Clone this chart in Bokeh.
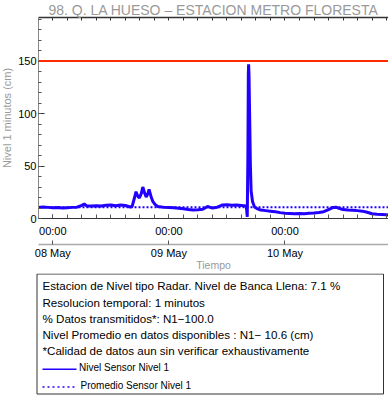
from bokeh.plotting import figure
from bokeh.models import Range1d, LinearAxis, FixedTicker, Span
from bokeh.layouts import column
from bokeh.embed import file_html
from bokeh.resources import INLINE
from bokeh.core.properties import value

# ---------------- data ----------------
TITLE = "98. Q. LA HUESO – ESTACION METRO FLORESTA"

# hours since 08 May 00:00
hours = [-3, -2, -1, 0, 1, 2, 3, 4, 5, 6, 6.5, 7, 8, 9, 10, 11, 12, 13, 14, 15,
         16, 16.4, 16.9, 17.2, 17.6, 17.9, 18.3, 18.6, 19.0, 19.3, 19.6, 19.9,
         20.3, 20.7, 21.2, 21.7, 22.5, 23, 24, 25, 26, 27, 28, 29, 30, 31, 32,
         32.5, 33, 34, 35, 36, 37, 38, 39, 40, 40.2, 40.33, 40.42, 40.48, 40.56,
         40.7, 40.85, 41.0, 41.3, 41.7, 42.2, 43, 44, 45, 46, 47, 48, 49, 50, 51,
         52, 53, 54, 55, 56, 57, 58, 58.5, 59, 60, 61, 62, 63, 64, 65, 66, 67,
         68, 69, 69.4]
level = [10.5, 11.0, 10.6, 10.2, 10.4, 10.0, 10.3, 10.6, 10.8, 12.5, 13.8, 12.0,
         11.8, 12.2, 12.0, 12.6, 12.8, 12.2, 12.8, 12.4, 11.0, 11.5, 20.0, 25.5,
         21.0, 19.5, 24.0, 30.0, 24.0, 20.5, 23.0, 27.8, 21.0, 16.0, 13.0, 11.5,
         11.0, 10.8, 10.5, 10.2, 9.8, 9.2, 8.6, 8.2, 8.4, 8.8, 11.5, 10.6, 10.0,
         10.8, 12.8, 13.2, 12.6, 12.8, 12.4, 12.0, 1.5, 60.0, 137.0, 147.0, 137.0,
         95.0, 50.0, 26.0, 16.0, 11.0, 9.5, 8.0, 7.5, 7.0, 6.5, 5.6, 5.0, 4.8,
         4.6, 4.8, 4.5, 5.0, 5.3, 5.8, 6.5, 8.5, 10.5, 10.8, 10.0, 8.5, 8.0, 7.8,
         7.5, 7.0, 6.0, 4.5, 4.0, 3.8, 3.5, 3.2]

mean_level = 10.6
bankfull_level = 150

day_ticks = [0, 24, 48]
time_labels = ["00:00", "00:00", "00:00"]
date_labels = ["08 May", "09 May", "10 May"]
minor_x = list(range(-3, 70, 3))
y_ticks = [0, 50, 100, 150]
minor_y = list(range(0, 200, 10))

info_lines = [
    "Estacion de Nivel tipo Radar. Nivel de Banca Llena:  7.1 %",
    "Resolucion temporal: 1 minutos",
    "% Datos transmitidos*: N1\u2212100.0",
    "Nivel Promedio en datos disponibles : N1\u2212 10.6 (cm)",
    "*Calidad de datos aun sin verificar exhaustivamente",
]
legend_labels = ["Nivel Sensor Nivel 1", "Promedio Sensor Nivel 1"]

# ---------------- style ----------------
FONT = "Liberation Sans"
BLUE = "#2200ff"
RED = "#ff2a00"
GREY = "#9a9a9a"

p = figure(width=396, height=281,
           x_range=Range1d(-2.96, 69.4), y_range=Range1d(0, 191.5),
           output_backend="svg", toolbar_location=None,
           x_axis_location=None, y_axis_location=None,
           min_border_left=46, min_border_right=0, min_border_top=25,
           min_border_bottom=54)
p.frame_align = False
p.outline_line_color = None
p.xgrid.visible = False
p.ygrid.visible = False
p.background_fill_color = "white"
p.border_fill_color = "white"

p.title.text = TITLE
p.title.align = "center"
p.title.text_font = FONT
p.title.text_font_size = "14px"
p.title.text_font_style = "normal"
p.title.text_color = GREY
p.title.standoff = 0

yax = LinearAxis(ticker=FixedTicker(ticks=y_ticks, minor_ticks=minor_y),
                 axis_label="Nivel 1 minutos (cm)")
yax.major_tick_in = 6
yax.major_tick_out = 0
yax.minor_tick_in = 3
yax.minor_tick_out = 0
yax.axis_line_color = "#888888"
yax.major_tick_line_color = "#333333"
yax.minor_tick_line_color = "#555555"
yax.major_label_standoff = 2
yax.major_label_text_font = FONT
yax.major_label_text_font_size = "11px"
yax.major_label_text_color = "black"
yax.axis_label_standoff = 2
yax.axis_label_text_font = FONT
yax.axis_label_text_font_size = "11px"
yax.axis_label_text_font_style = "normal"
yax.axis_label_text_color = GREY
p.add_layout(yax, "left")

top = LinearAxis(ticker=FixedTicker(ticks=[], minor_ticks=minor_x))
top.minor_tick_in = 3
top.minor_tick_out = 0
top.major_tick_in = 0
top.major_tick_out = 0
top.axis_line_color = "#333333"
top.axis_line_width = 1.5
top.minor_tick_line_color = "#333333"
top.major_label_standoff = 0
p.add_layout(top, "above")

xax = LinearAxis(ticker=FixedTicker(ticks=day_ticks, minor_ticks=minor_x),
                 major_label_overrides=dict(zip(day_ticks, time_labels)),
                 axis_label=" ")
xax.major_tick_in = 4
xax.major_tick_out = 0
xax.minor_tick_in = 4
xax.minor_tick_out = 0
xax.axis_line_color = "#333333"
xax.axis_line_width = 1.2
xax.major_tick_line_color = "#333333"
xax.minor_tick_line_color = "#555555"
xax.major_label_standoff = 6
xax.major_label_text_font = FONT
xax.major_label_text_font_size = "11px"
xax.major_label_text_color = "black"
xax.axis_label_standoff = 1
xax.axis_label_text_font_size = "1px"
p.add_layout(xax, "below")

dax = LinearAxis(ticker=FixedTicker(ticks=day_ticks, minor_ticks=[]),
                 major_label_overrides=dict(zip(day_ticks, date_labels)),
                 axis_label="Tiempo")
dax.major_tick_in = 4
dax.major_tick_out = 0
dax.axis_line_color = "#aaaaaa"
dax.axis_line_width = 1.5
dax.major_tick_line_color = "#555555"
dax.major_label_standoff = 2
dax.major_label_text_font = FONT
dax.major_label_text_font_size = "11px"
dax.major_label_text_color = "black"
dax.axis_label_standoff = -3
dax.axis_label_text_font = FONT
dax.axis_label_text_font_size = "10.5px"
dax.axis_label_text_font_style = "normal"
dax.axis_label_text_color = GREY
p.add_layout(dax, "below")

p.add_layout(Span(location=mean_level, dimension="width", line_color=BLUE,
                  line_width=2, line_dash="2 2", level="underlay"))
p.add_layout(Span(location=bankfull_level, dimension="width", line_color=RED,
                  line_width=2))
p.line(hours, level, line_color=BLUE, line_width=3)

# ---------------- info box (page pixel coordinates) ----------------
q = figure(width=396, height=131, x_range=Range1d(-8, 388), y_range=Range1d(404, 273),
           output_backend="svg", toolbar_location=None,
           x_axis_location=None, y_axis_location=None, min_border=0)
q.frame_align = False
q.outline_line_color = None
q.xgrid.visible = False
q.ygrid.visible = False

q.quad(left=36.5, right=383, top=273.5, bottom=393.5, fill_color=None,
       line_color="#333333", line_width=1)
q.text(x=[42] * len(info_lines), y=[285, 301.7, 318.3, 334.3, 350.3], text=info_lines,
       text_font=value(FONT), text_font_size="11.6px", text_baseline="middle",
       text_color="black")
q.line(x=[42, 76], y=[368.7, 368.7], line_color=BLUE, line_width=1.5)
q.line(x=[42, 74], y=[386.5, 386.5], line_color=BLUE, line_width=1.5, line_dash="2 3")
q.text(x=[78.5, 80], y=[366.5, 384.5], text=legend_labels, text_font=value(FONT),
       text_font_size="10px", text_baseline="middle", text_color="black")

layout = column(p, q, margin=(-8, 0, 0, -8))

open("out.html", "w").write(file_html(layout, INLINE))
